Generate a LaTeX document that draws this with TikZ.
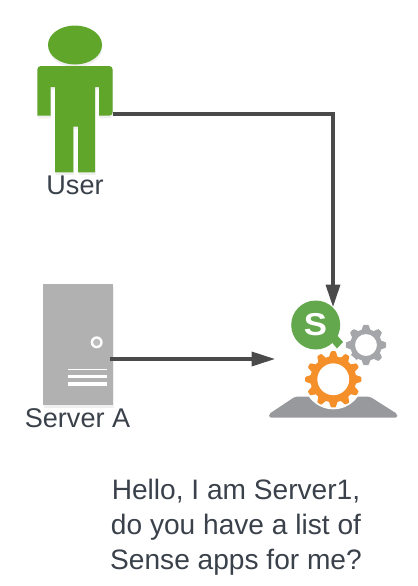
\documentclass[tikz,border=0pt]{standalone}
\usepackage{fontspec}
\setmainfont{Liberation Sans}
\usetikzlibrary{shadows}
\definecolor{usergreen}{HTML}{5FA62A}
\definecolor{servergray}{HTML}{B1B1B1}
\definecolor{linegray}{HTML}{4A4A4A}
\definecolor{labelgray}{HTML}{3A414A}
\definecolor{qlikgreen}{HTML}{63A84C}
\definecolor{geargray}{HTML}{A5A6AA}
\definecolor{gearorange}{HTML}{F58F2A}
\definecolor{basegray}{HTML}{98999D}
\tikzset{
  softshadow/.style={drop shadow={opacity=0.12,shadow xshift=0.3pt,shadow yshift=-1.5pt}},
  label/.style={text=labelgray,font=\fontsize{15.4}{19.4}\selectfont,inner sep=0pt,align=center},
  link/.style={draw=linegray,line width=2.2pt},
  tip/.style={fill=linegray},
  slot/.style={fill=white}
}
% gear outline around (#1,#2): radius #3, tooth height #4, #5 teeth
\newcommand{\gearshape}[5]{plot[samples=181,domain=0:358] ({#1+(#3+#4*max(-1,min(1,1.7*cos(#5*\x))))*cos(\x)},{#2+(#3+#4*max(-1,min(1,1.7*cos(#5*\x))))*sin(\x)}) -- cycle}
\begin{document}
\begin{tikzpicture}[x=0.02cm,y=-0.02cm]
\useasboundingbox (0,0) rectangle (417,586);

% user
\fill[usergreen,softshadow] (75,45) ellipse (27 and 19.5);
\fill[usergreen,softshadow,rounded corners=2pt] (37.3,115.7) -- (37.3,66) -- (112.7,66) -- (112.7,115.7) [sharp corners] -- (99,115.7) -- (99,87) -- (95,87) -- (95,172.3) -- (78,172.3) -- (78,126.7) -- (73.3,126.7) -- (73.3,172.3) -- (55,172.3) -- (55,87) -- (50.7,87) -- (50.7,115.7) -- cycle;
\coordinate (userhand) at (112.7,114);
\node[label] (userlabel) at (75,185) {User};

% server
\node[fill=servergray,softshadow,minimum width=1.4cm,minimum height=2.42cm,inner sep=0pt] (servera) at (78,344.5) {};
\fill[white] (96.7,342.3) circle (6);
\fill[servergray!85!white] (96.7,342.3) circle (3.6);
\fill[slot] (68,368.5) rectangle (106.7,370.3);
\fill[slot] (68,374.5) rectangle (106.7,378);
\fill[slot] (68,382) rectangle (106.7,385.5);
\coordinate (serverport) at (110,359);
\node[label] (serverlabel) at (77.5,418) {Server A};

% app icon
\node[minimum width=2.32cm,minimum height=2.08cm,inner sep=0pt] (apps) at (333,359) {};
\fill[basegray,rounded corners=1pt] (295,396.7) -- (370,396.7) -- (397.3,414) -- (397.3,417.7) -- (269,417.7) -- (269,414) -- cycle;
\fill[qlikgreen] (315.7,325) circle (24.5);
\fill[qlikgreen] (329,339) -- (335,333) -- (343,342) -- (337,348.5) -- cycle;
\node[text=white,font=\bfseries\fontsize{18}{18}\selectfont,inner sep=0pt,xscale=1.1] (qliks) at (315.5,325) {S};
\fill[geargray,even odd rule] \gearshape{366}{345}{18}{2.2}{8} (366,345) circle (11);
\fill[white] (333.3,379.3) circle (30);
\fill[gearorange,even odd rule] \gearshape{333.3}{379.3}{25.5}{2.6}{12} (333.3,379.3) circle (16);

% connectors
\draw[link] (userhand) -| ([yshift=0.3cm]apps.north);
\draw[link] (serverport) -- ([xshift=-0.3cm]apps.west |- serverport);
\fill[tip] (apps.north) -- ++(-7.5,-22) -- ++(15,0) -- cycle;
\fill[tip] (apps.west) -- ++(-23,-7.5) -- ++(0,15) -- cycle;

% question
\node[label,font=\fontsize{16}{20}\selectfont] (question) at (236,527) {Hello, I am Server1,\\do you have a list of\\Sense apps for me?};
\end{tikzpicture}
\end{document}
